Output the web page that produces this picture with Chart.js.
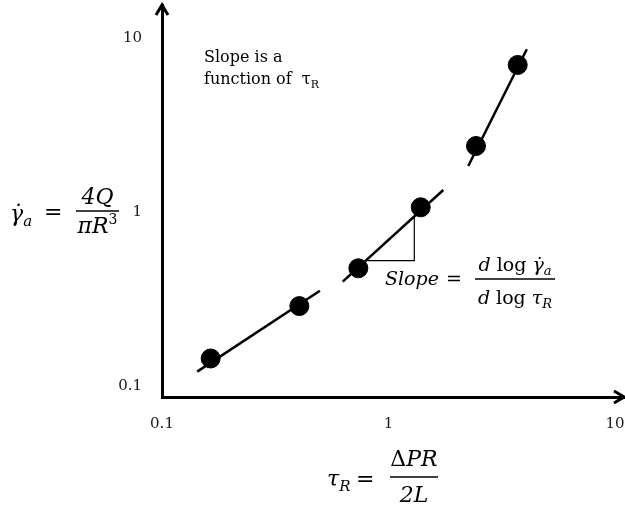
<!DOCTYPE html>
<html>
<head>
<meta charset="utf-8">
<script src="https://cdn.jsdelivr.net/npm/chart.js@4/dist/chart.umd.min.js"></script>
<style>
  html, body { margin: 0; padding: 0; background: #fff; }
  canvas { display: block; }
</style>
</head>
<body>
<canvas id="c" width="625" height="505"></canvas>
<script>
// Capillary data: wall shear stress (x) vs apparent shear rate (y)
const tauR   = [0.164, 0.404, 0.736, 1.388, 2.434, 3.72];
const gammaA = [0.144, 0.288, 0.475, 1.064, 2.395, 7.0];

// Straight pieces of the log-log curve (local slopes)
const lowX  = [0.143, 0.498];  const lowY  = [0.121, 0.353];
const midX  = [0.628, 1.746];  const midY  = [0.398, 1.338];
const highX = [2.25, 4.08];    const highY = [1.838, 8.61];

// Slope triangle under the middle piece
const triX = [0.806, 1.300, 1.300];
const triY = [0.525, 0.525, 0.939];

// Axis ticks and ranges
const tickValues = [0.1, 1, 10];
const tickLabels = ['0.1', '1', '10'];
const xRange = [0.1, 10.96];
const yRange = [0.0865, 15.47];

const zip = (xs, ys) => xs.map((x, i) => ({ x: x, y: ys[i] }));

const SERIF = '"DejaVu Serif"';
const font = (size, italic) => (italic ? 'italic ' : '') + size + 'px ' + SERIF;

function runWidth(ctx, parts) {
  let w = 0;
  for (const p of parts) { ctx.font = p.font; w += (p.dx || 0) + ctx.measureText(p.t).width; }
  return w;
}
function drawRun(ctx, x, y, parts) {
  ctx.textAlign = 'left';
  ctx.textBaseline = 'alphabetic';
  for (const p of parts) {
    ctx.font = p.font;
    x += (p.dx || 0);
    ctx.fillText(p.t, x, y + (p.dy || 0));
    x += ctx.measureText(p.t).width;
  }
  return x;
}
function drawCentered(ctx, cx, y, parts) {
  drawRun(ctx, cx - runWidth(ctx, parts) / 2, y, parts);
}
function bar(ctx, x0, x1, y) {
  ctx.beginPath();
  ctx.lineWidth = 1.3;
  ctx.moveTo(x0, y); ctx.lineTo(x1, y);
  ctx.stroke();
}

const GAMMA_DOT = '\u03B3\u0307';

// Axis arrowheads and formula annotations
const annotations = {
  id: 'annotations',
  afterDraw(chart) {
    const ctx = chart.ctx;
    const a = chart.chartArea;
    ctx.save();
    ctx.strokeStyle = '#000';
    ctx.fillStyle = '#000';
    ctx.lineWidth = 3;
    ctx.lineCap = 'butt';
    ctx.lineJoin = 'miter';
    // y arrow
    ctx.beginPath();
    ctx.moveTo(a.left - 6, a.top + 10);
    ctx.lineTo(a.left, a.top);
    ctx.lineTo(a.left + 6, a.top + 10);
    ctx.stroke();
    // x arrow
    ctx.beginPath();
    ctx.moveTo(a.right - 10, a.bottom - 6);
    ctx.lineTo(a.right, a.bottom);
    ctx.lineTo(a.right - 10, a.bottom + 6);
    ctx.stroke();

    // note in the upper left
    drawRun(ctx, 204, 62, [{ t: 'Slope is a', font: font(16, false) }]);
    drawRun(ctx, 204, 84, [
      { t: 'function of  ', font: font(16, false) },
      { t: '\u03C4', font: font(16, false) },
      { t: 'R', font: font(11, false), dy: 4 }
    ]);

    // y-axis quantity
    drawRun(ctx, 10, 221, [
      { t: GAMMA_DOT, font: font(22, true) },
      { t: 'a', font: font(15, true), dy: 5 }
    ]);
    drawRun(ctx, 44, 219, [{ t: '=', font: font(22, false) }]);
    bar(ctx, 76, 119, 211);
    drawCentered(ctx, 97.5, 204, [{ t: '4Q', font: font(22, true) }]);
    drawCentered(ctx, 97.5, 233, [
      { t: '\u03C0R', font: font(22, true) },
      { t: '3', font: font(14, false), dy: -9 }
    ]);

    // x-axis quantity
    drawRun(ctx, 327, 486, [
      { t: '\u03C4', font: font(22, true) },
      { t: 'R', font: font(15, true), dy: 5 }
    ]);
    drawRun(ctx, 356, 486, [{ t: '=', font: font(22, false) }]);
    bar(ctx, 390, 438, 477);
    drawCentered(ctx, 414, 466, [
      { t: '\u0394', font: font(22, false) },
      { t: 'PR', font: font(22, true) }
    ]);
    drawCentered(ctx, 414, 502, [{ t: '2L', font: font(22, true) }]);

    // slope definition
    drawRun(ctx, 385, 285, [{ t: 'Slope', font: font(19, true) }]);
    drawRun(ctx, 446, 285, [{ t: '=', font: font(19, false) }]);
    bar(ctx, 475, 555, 279);
    drawCentered(ctx, 515, 271, [
      { t: 'd', font: font(19, true) },
      { t: ' log ', font: font(19, false) },
      { t: GAMMA_DOT, font: font(19, true) },
      { t: 'a', font: font(13, true), dy: 4 }
    ]);
    drawCentered(ctx, 515, 304, [
      { t: 'd', font: font(19, true) },
      { t: ' log ', font: font(19, false) },
      { t: '\u03C4', font: font(19, true) },
      { t: 'R', font: font(13, true), dy: 4 }
    ]);
    ctx.restore();
  }
};

const lineStyle = {
  showLine: true, borderColor: '#000', borderWidth: 2.5,
  pointRadius: 0, pointHoverRadius: 0, fill: false, order: 2
};

// keep the plot area fixed: no extra room reserved for overhanging labels
const noOverhang = (scale) => {
  scale.paddingLeft = 0; scale.paddingRight = 0;
  scale.paddingTop = 0; scale.paddingBottom = 0;
};

const logAxis = (range) => ({
  type: 'logarithmic',
  min: range[0],
  max: range[1],
  grid: { display: false, drawTicks: false },
  border: { display: true, color: '#000', width: 3 },
  afterBuildTicks: (scale) => { scale.ticks = tickValues.map(v => ({ value: v })); },
  ticks: {
    autoSkip: false,
    maxRotation: 0,
    color: '#1a1a1a',
    font: { family: 'DejaVu Serif', size: 15 },
    callback: (v) => { const i = tickValues.indexOf(v); return i >= 0 ? tickLabels[i] : ''; }
  }
});

const xAxis = logAxis(xRange);
xAxis.ticks.padding = 18;
xAxis.afterFit = (scale) => { scale.height = 108; noOverhang(scale); };
const yAxis = logAxis(yRange);
yAxis.ticks.padding = 20;
yAxis.afterFit = (scale) => { scale.width = 162; noOverhang(scale); };

new Chart(document.getElementById('c'), {
  type: 'scatter',
  data: {
    datasets: [
      { label: 'data', data: zip(tauR, gammaA), backgroundColor: '#000', borderColor: '#000',
        pointRadius: 9.5, pointHoverRadius: 9.5, showLine: false, order: 0 },
      Object.assign({ label: 'low', data: zip(lowX, lowY) }, lineStyle),
      Object.assign({ label: 'mid', data: zip(midX, midY) }, lineStyle),
      Object.assign({ label: 'high', data: zip(highX, highY) }, lineStyle),
      Object.assign({ label: 'triangle', data: zip(triX, triY) }, lineStyle, { borderWidth: 1.2, order: 1 })
    ]
  },
  options: {
    responsive: false,
    animation: false,
    events: [],
    layout: { autoPadding: false, padding: { top: 5, right: 1, left: 0, bottom: 0 } },
    plugins: { legend: { display: false }, tooltip: { enabled: false } },
    scales: { x: xAxis, y: yAxis }
  },
  plugins: [annotations]
});
</script>
</body>
</html>
